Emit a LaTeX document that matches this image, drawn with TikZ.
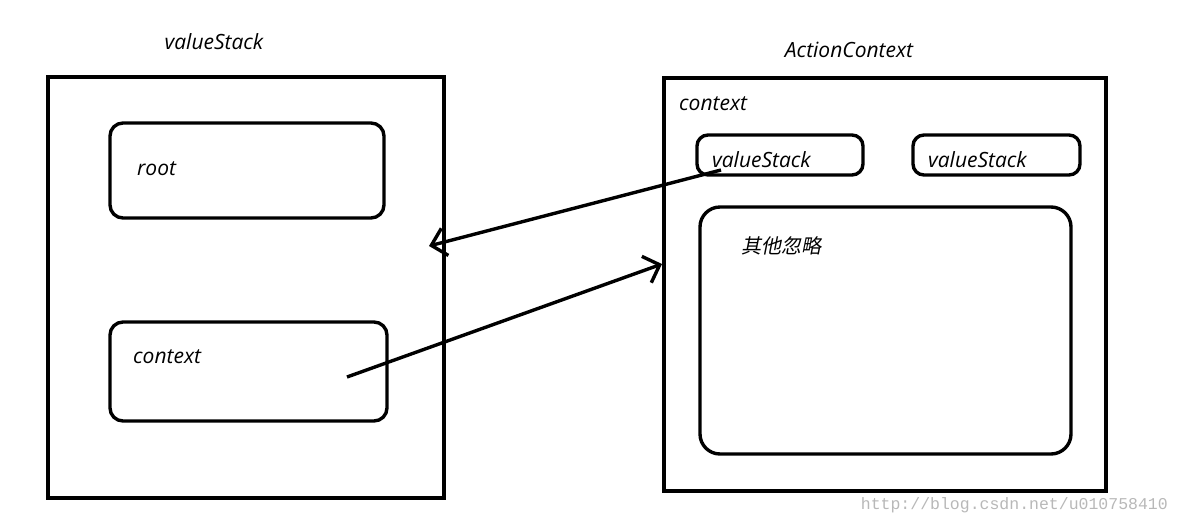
\documentclass[tikz,border=0pt]{standalone}
\usepackage{fontspec}
\setmainfont{Open Sans}
\newfontfamily\cjk[FakeSlant=0.2]{Noto Sans CJK SC}
\newfontfamily\wm{Liberation Mono}
\usetikzlibrary{arrows.meta}

\tikzset{
	box/.style={line width=3.6pt},
	slot/.style={line width=3.4pt, rounded corners=13pt},
	lbl/.style={font=\fontsize{21}{24}\selectfont\itshape, inner sep=0pt},
	link/.style={line width=3.4pt, -{Straight Barb[length=14pt, width=28pt, line width=3.4pt]}}
}

\begin{document}
\begin{tikzpicture}[x=1pt, y=-1pt]
			%%%%% START %%%%%
			\useasboundingbox (0, 0) rectangle (1178, 523);
			
			% valueStack
			\draw[box] (48, 77) rectangle (444, 498);
			\node[lbl] (vsTitle) at (214, 42) {valueStack};
			
			\draw[slot] (110, 123) rectangle (384, 218);
			\node[lbl, anchor=west] (root) at (137, 169) {root};
			
			\draw[slot] (110, 322) rectangle (387, 421);
			\node[lbl, anchor=west] (ctxLeft) at (133, 357) {context};
			
			% ActionContext
			\draw[box] (664, 78) rectangle (1106, 491);
			\node[lbl] (acTitle) at (849, 50) {ActionContext};
			\node[lbl, anchor=west] (ctxRight) at (679, 104) {context};
			
			\draw[slot, rounded corners=11pt] (697, 135) rectangle (863, 175);
			\node[lbl, anchor=west] (vsA) at (712, 160) {valueStack};
			
			\draw[slot, rounded corners=11pt] (913, 135) rectangle (1080, 175);
			\node[lbl, anchor=west] (vsB) at (928, 160) {valueStack};
			
			\draw[slot, rounded corners=20pt] (700, 207) rectangle (1071, 454);
			\node[inner sep=0pt, anchor=west] (other) at (741, 246) {\cjk\fontsize{20}{22}\selectfont 其他忽略};
			
			% links
			\coordinate (fromVs) at (721, 170);
			\coordinate (toStack) at (429, 246);
			\coordinate (fromCtx) at (347, 377);
			\coordinate (toAction) at (662, 264);
			\draw[link] (fromVs) -- (toStack);
			\draw[link] (fromCtx) -- (toAction);
			
			\node[inner sep=0pt, anchor=base east, text=black!28] (mark) at (1168, 509) {\wm\fontsize{16.5}{18}\selectfont http://blog.csdn.net/u010758410};
			%%%%% END %%%%%
\end{tikzpicture}
\end{document}
